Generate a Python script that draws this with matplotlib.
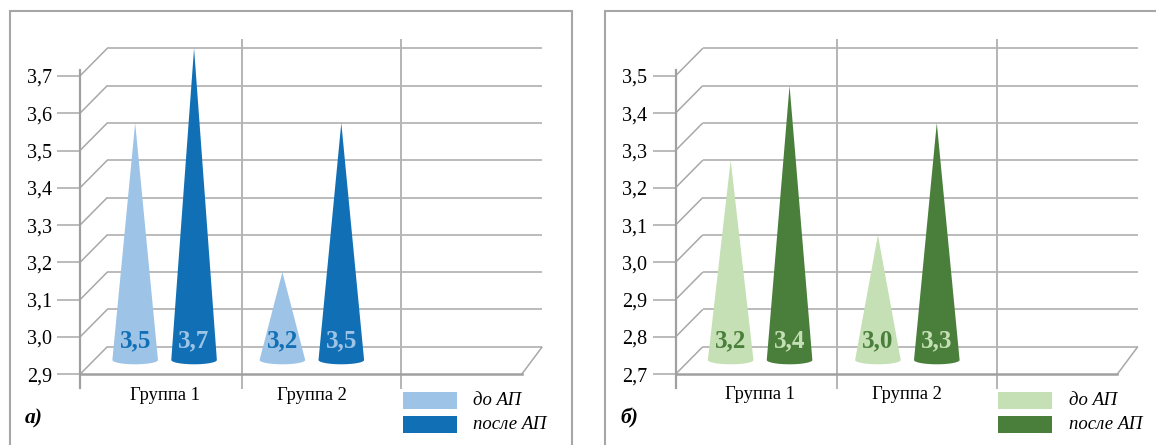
import numpy as np
import matplotlib.pyplot as plt
from matplotlib.patches import Polygon, Rectangle

plt.rcParams['font.family'] = ['Liberation Serif', 'DejaVu Serif']

# ---------- данные ----------
groups = ['Группа 1', 'Группа 2']
series = ['до АП', 'после АП']

# панель а)
a_before = [3.5, 3.1]          # высота конуса, как на рисунке
a_after = [3.7, 3.5]
a_before_lbl = ['3,5', '3,2']
a_after_lbl = ['3,7', '3,5']
a_ymin, a_ymax = 2.9, 3.7

# панель б)
b_before = [3.2, 3.0]
b_after = [3.4, 3.3]
b_before_lbl = ['3,2', '3,0']
b_after_lbl = ['3,4', '3,3']
b_ymin, b_ymax = 2.7, 3.5

blue = ['#9dc3e6', '#1170b5']
green = ['#c5e0b4', '#4a7e3b']

# ---------- геометрия (пиксели) ----------
W, H = 1156, 445
FX0, FX1, FYT, FYB = 80, 521.7, 75.9, 374.3   # передняя плоскость
NCAT = 3
BACK_DXL, BACK_DXR, BACK_DY = 27.3, 20.6, 27.6
MID_DX, MID_DY = 11, 14.3
CONE_HW, CONE_HH = 22.8, 4.3
GRID_C = '#a8a8a8'
AX_C = '#a0a0a0'

fig = plt.figure(figsize=(W / 100, H / 100), dpi=100)


def fig_px(x, y):
    return x / W, 1 - y / H


def draw_panel(ox, ymin, ymax, before, after, lbl_b, lbl_a, colors, letter):
    ax = fig.add_axes([(ox + FX0) / W, 1 - FYB / H, (FX1 - FX0) / W, (FYB - FYT) / H])
    ax.set_xlim(0, NCAT)
    ax.set_ylim(ymin, ymax)
    for s in ax.spines.values():
        s.set_visible(False)
    ax.patch.set_visible(False)
    sx = NCAT / (FX1 - FX0)
    sy = (ymax - ymin) / (FYB - FYT)

    ticks = np.round(np.arange(ymin, ymax + 0.05, 0.1), 1)
    ax.set_yticks(ticks)
    ax.set_yticklabels([f'{t:.1f}'.replace('.', ',') for t in ticks])
    ax.tick_params(axis='y', length=16.3, width=1.1, color=GRID_C, pad=4,
                   labelsize=14.5, labelcolor='black')
    ax.set_xticks([])

    dxl, dxr, dy = BACK_DXL * sx, BACK_DXR * sx, BACK_DY * sy
    kw = dict(color=GRID_C, lw=1.1, clip_on=False, zorder=1, solid_capstyle='butt')
    # задняя стенка и левая стенка
    for t in ticks:
        ax.plot([dxl, NCAT + dxr], [t + dy, t + dy], **kw)
        ax.plot([0, dxl], [t, t + dy], **kw)
    # правый край пола
    ax.plot([NCAT, NCAT + dxr], [ymin, ymin + dy], **kw)
    # вертикальные линии сетки
    for gx in [(241.7 - FX0) * sx, (401 - FX0) * sx]:
        ax.plot([gx, gx], [ymin - 13.7 * sy, ymin + (FYB - 40) * sy], lw=1.4,
                color='#b4b4b4', clip_on=False, zorder=1)
    # ось Y и передний край пола
    ax.plot([0, 0], [ymin - 13.7 * sy, ymin + (FYB - 70) * sy], color=AX_C, lw=1.6,
            clip_on=False, zorder=2)
    ax.plot([0, NCAT], [ymin, ymin], color=AX_C, lw=1.8, clip_on=False, zorder=2)

    # конусы
    tt = np.linspace(np.pi, 2 * np.pi, 40)
    for k, (vals, lbls) in enumerate([(before, lbl_b), (after, lbl_a)]):
        for i, (v, lab) in enumerate(zip(vals, lbls)):
            xc = i + 0.5 + (0.4 * k - 0.2) + MID_DX * sx
            by = ymin + MID_DY * sy
            arc = np.column_stack([xc + CONE_HW * sx * np.cos(tt),
                                   by + CONE_HH * sy * np.sin(tt)])
            pts = np.vstack([[xc, v + dy], arc])
            ax.add_patch(Polygon(pts, closed=True, fc=colors[k], ec='none',
                                 clip_on=False, zorder=3))
            ax.text(xc, ymin + (FYB - 347.5) * sy, lab, ha='center', va='baseline',
                    fontsize=18, fontweight='bold', color=colors[1 - k], zorder=4)

    # подписи групп
    for i, g in enumerate(groups):
        ax.text(i + 0.5 + MID_DX * sx, ymin - (399.5 - FYB) * sy, g, ha='center',
                va='baseline', fontsize=13.3)

    # легенда
    for k, (s, yc) in enumerate(zip(series, [400.8, 424.7])):
        x0, y0 = fig_px(ox + 402.7, yc + 8.6)
        fig.add_artist(Rectangle((x0, y0), 54 / W, 17.2 / H, transform=fig.transFigure,
                                 fc=colors[k], ec='none'))
        tx, ty = fig_px(ox + 473.3, yc)
        fig.text(tx, ty, s, ha='left', va='center', fontsize=13.5, fontstyle='italic')

    # буква панели
    lx, ly = fig_px(ox + 25, 418.3)
    fig.text(lx, ly, letter, ha='left', va='center', fontsize=15.5,
             fontweight='bold', fontstyle='italic')

    # рамка
    bx, byy = fig_px(ox + 10, 470)
    fig.add_artist(Rectangle((bx, byy), 561.7 / W, (470 - 10.7) / H,
                             transform=fig.transFigure, fc='none', ec='#a6a6a6', lw=1.5))


draw_panel(0, a_ymin, a_ymax, a_before, a_after, a_before_lbl, a_after_lbl, blue, 'а)')
draw_panel(595.5, b_ymin, b_ymax, b_before, b_after, b_before_lbl, b_after_lbl, green, 'б)')

fig.savefig('out.png', dpi=100)
